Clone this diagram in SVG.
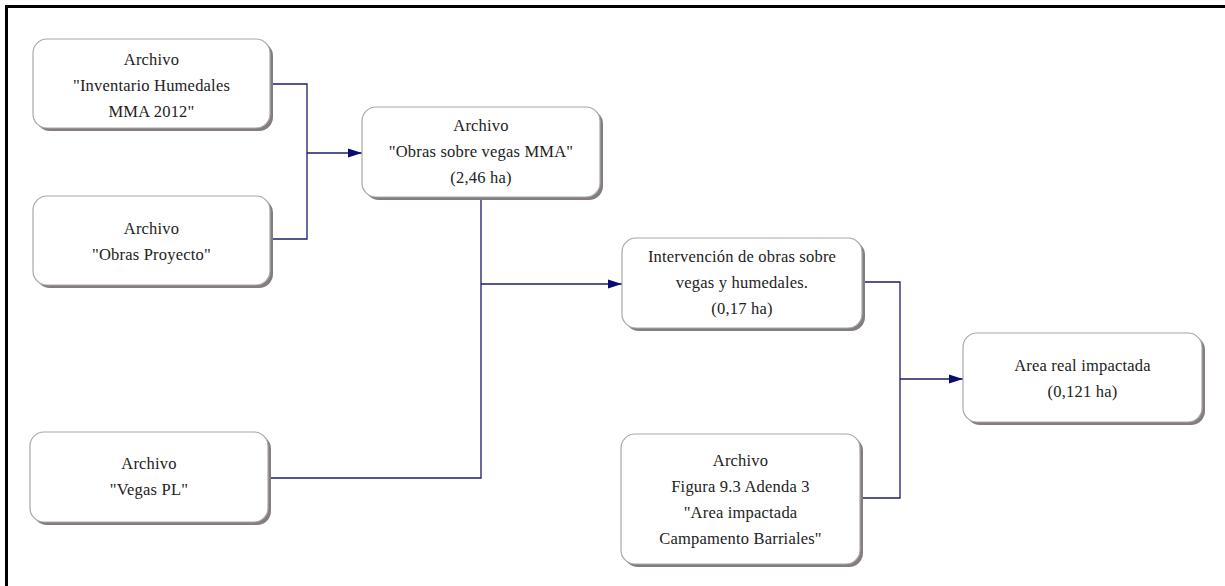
<svg xmlns="http://www.w3.org/2000/svg" width="1225" height="586" viewBox="0 0 1225 586">
<style>
.box{fill:#fff;stroke:#a8a8a8;stroke-width:1.2}
.sh{fill:#857d7d}
.t{font-family:'Liberation Serif','DejaVu Serif','Noto Serif',serif;font-size:16.5px;letter-spacing:0.2px;fill:#222;text-anchor:middle;dominant-baseline:central}
.c{fill:none;stroke:#1c1c6a;stroke-width:1.3}
</style>
<defs>
<marker id="ah" markerWidth="15" markerHeight="10" refX="14" refY="5" orient="auto" markerUnits="userSpaceOnUse">
<path d="M0,0.5 L14,5 L0,9.5 Z" fill="#0b0b70"/>
</marker>
</defs>
<rect x="0" y="0" width="1225" height="586" fill="#fff"/>
<path d="M6.5,600 V6.5 H1230" fill="none" stroke="#000" stroke-width="3"/>

<g id="connectors">
<path class="c" d="M270,84 H307 V239 H270"/>
<path class="c" d="M307,153 H362" marker-end="url(#ah)"/>
<path class="c" d="M481,197 V478 H268"/>
<path class="c" d="M481,284 H622" marker-end="url(#ah)"/>
<path class="c" d="M862,282 H900 V498 H860"/>
<path class="c" d="M900,379 H963" marker-end="url(#ah)"/>
</g>

<g id="n1">
<rect class="sh" x="36" y="42" width="237" height="89" rx="14"/>
<rect class="box" x="33" y="39" width="237" height="89" rx="14"/>
<text class="t" x="151.5" y="59">Archivo</text>
<text class="t" x="151.5" y="85">"Inventario Humedales</text>
<text class="t" x="151.5" y="111">MMA 2012"</text>
</g>
<g id="n2">
<rect class="sh" x="36" y="199" width="237" height="89" rx="14"/>
<rect class="box" x="33" y="196" width="237" height="89" rx="14"/>
<text class="t" x="151.5" y="228">Archivo</text>
<text class="t" x="151.5" y="254">"Obras Proyecto"</text>
</g>
<g id="n3">
<rect class="sh" x="365" y="110" width="238" height="90" rx="14"/>
<rect class="box" x="362" y="107" width="238" height="90" rx="14"/>
<text class="t" x="481" y="125">Archivo</text>
<text class="t" x="481" y="151">"Obras sobre vegas MMA"</text>
<text class="t" x="481" y="177">(2,46 ha)</text>
</g>
<g id="n4">
<rect class="sh" x="625" y="241" width="240" height="90" rx="14"/>
<rect class="box" x="622" y="238" width="240" height="90" rx="14"/>
<text class="t" x="742" y="256">Intervención de obras sobre</text>
<text class="t" x="742" y="282">vegas y humedales.</text>
<text class="t" x="742" y="308">(0,17 ha)</text>
</g>
<g id="n5">
<rect class="sh" x="624" y="437" width="239" height="130" rx="14"/>
<rect class="box" x="621" y="434" width="239" height="130" rx="14"/>
<text class="t" x="740.5" y="460">Archivo</text>
<text class="t" x="740.5" y="486">Figura 9.3 Adenda 3</text>
<text class="t" x="740.5" y="512">"Area impactada</text>
<text class="t" x="740.5" y="538">Campamento Barriales"</text>
</g>
<g id="n6">
<rect class="sh" x="966" y="336" width="239" height="89" rx="14"/>
<rect class="box" x="963" y="333" width="239" height="89" rx="14"/>
<text class="t" x="1082.5" y="365">Area real impactada</text>
<text class="t" x="1082.5" y="391">(0,121 ha)</text>
</g>
<g id="n7">
<rect class="sh" x="33" y="435" width="238" height="90" rx="14"/>
<rect class="box" x="30" y="432" width="238" height="90" rx="14"/>
<text class="t" x="149" y="463">Archivo</text>
<text class="t" x="149" y="489">"Vegas PL"</text>
</g>
</svg>
